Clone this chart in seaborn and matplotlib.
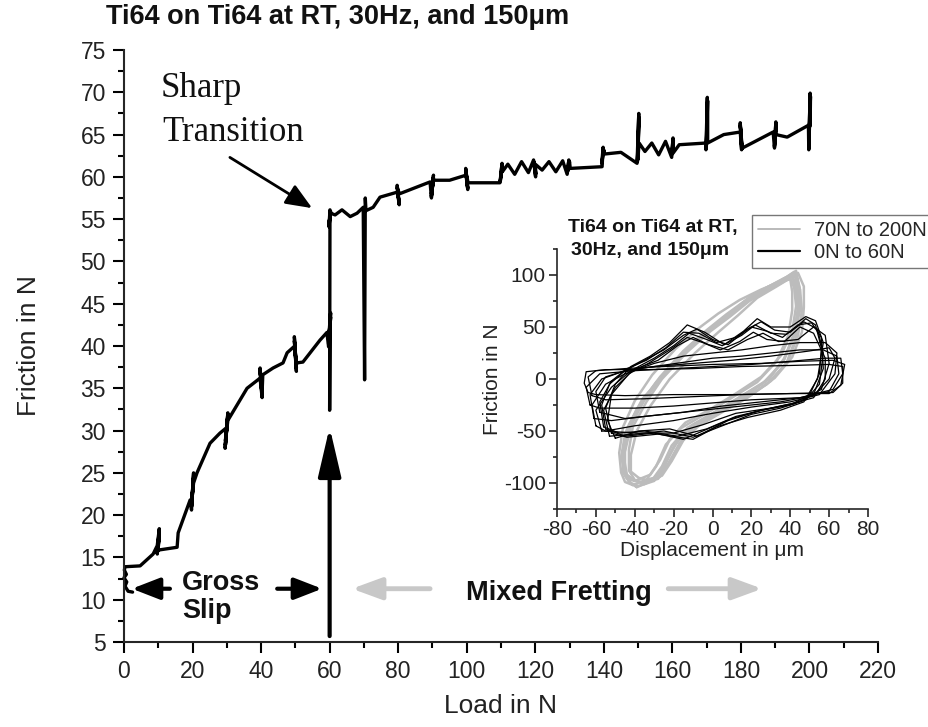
import matplotlib
matplotlib.use("Agg")
import matplotlib.pyplot as plt
from matplotlib.lines import Line2D
from matplotlib.ticker import MultipleLocator
import pandas as pd
import seaborn as sns

# ---------------- main curve: friction versus applied load ----------------
load = [2.5, 1.2, 0.3, 0.8, 0.0, 0.7, 0.1, 0.3,
        4.7, 8.5, 9.7, 10.3, 9.7, 10.3, 9.7, 10.3, 9.9, 10.5,
        15.5, 15.8, 19.3, 19.7, 20.3, 19.7, 20.3, 19.7, 20.3, 21.3,
        25.1, 28.0, 29.8, 29.5, 30.3, 29.6, 30.3, 29.6, 30.3,
        35.9, 39.7, 40.3, 39.7, 40.3, 39.7, 40.3, 40.5, 43.5, 46.4, 47.6,
        49.8, 50.3, 49.7, 50.3, 49.7, 50.3, 50.4, 52.2, 57.2,
        59.2, 59.7, 60.3, 59.7, 60.3, 59.7, 60.1, 60.0, 60.1, 59.8, 60.3, 59.8, 60.3,
        61.6, 63.6, 66.0, 68.0, 69.8, 70.2, 70.4, 70.6,
        72.7, 74.7, 79.8, 80.3, 79.7, 80.3, 79.7, 80.4,
        89.3, 89.7, 90.3, 89.7, 90.3, 89.7, 90.3, 95.0,
        99.8, 100.3, 99.7, 100.3, 99.7, 100.4,
        109.7, 110.3, 109.8, 110.4, 110.4, 112.0, 114.0, 116.0, 118.0,
        119.5, 120.1, 119.6, 120.2, 120.0, 122.0, 124.0, 126.0, 128.0,
        129.3, 129.8, 129.4, 130.0, 130.2,
        139.5, 139.8, 139.4, 140.0, 140.2, 145.0,
        149.7, 150.2, 149.8, 150.3, 149.9, 150.3,
        152.0, 154.0, 156.0, 158.0, 159.8, 160.2, 159.8, 160.3, 160.2, 162.0,
        169.8, 169.8, 170.2, 169.9, 170.3, 170.3, 175.0,
        179.8, 180.2, 179.8, 180.3, 179.8, 180.4,
        189.4, 189.8, 190.2, 189.8, 190.3, 190.2, 193.5,
        199.7, 199.8, 200.2, 199.8, 200.3, 200.2]
friction = [10.9, 11.0, 11.6, 12.1, 12.6, 13.0, 13.5, 13.9,
            14.0, 15.4, 16.4, 18.4, 15.4, 18.0, 15.6, 17.4, 15.8, 15.9,
            16.2, 17.9, 21.8, 20.6, 25.0, 21.0, 24.4, 21.4, 23.8, 25.0,
            28.5, 29.7, 30.3, 27.9, 32.1, 28.3, 31.8, 28.8, 31.2,
            35.0, 36.2, 33.9, 37.4, 34.2, 37.0, 34.6, 36.6, 37.4, 38.0, 39.2,
            40.0, 37.0, 41.1, 37.4, 40.6, 37.8, 38.0, 38.1, 40.7,
            41.6, 39.9, 43.9, 40.3, 43.4, 40.8, 43.0, 32.4, 56.1, 54.1, 55.9, 54.5, 55.7,
            55.5, 56.1, 55.3, 55.7, 56.4, 36.0, 57.5, 56.0,
            56.4, 57.6, 58.2, 56.7, 59.0, 56.9, 58.7, 58.0,
            59.4, 57.5, 60.2, 57.7, 59.9, 58.0, 59.6, 59.6,
            60.2, 58.5, 61.0, 58.7, 60.7, 59.3,
            59.3, 61.6, 59.5, 61.3, 60.6, 61.5, 60.3, 61.8, 60.5,
            62.0, 60.0, 61.8, 60.3, 61.5, 60.8, 61.8, 60.6, 61.9,
            60.3, 62.0, 60.6, 61.8, 61.0,
            61.2, 63.5, 61.6, 63.2, 62.7, 62.9,
            61.6, 67.5, 61.8, 67.0, 62.0, 64.0,
            63.0, 64.0, 62.6, 64.2, 62.3, 64.6, 62.6, 64.3, 62.8, 63.8,
            64.0, 63.2, 69.4, 63.4, 69.0, 64.0, 65.0,
            65.3, 63.2, 66.4, 63.3, 66.1, 63.4,
            65.3, 63.4, 66.5, 63.6, 66.2, 65.0, 64.7,
            66.1, 63.2, 69.9, 63.4, 69.5, 66.0]

x_ticks = list(range(0, 221, 20))
y_ticks = list(range(5, 76, 5))

# ---------------- inset: friction loops, 0N to 60N ----------------
low_x = [
    [-64, -66, -65, -55, -35, -10, 15, 40, 60, 67, 67, 62, 40, 10, -20, -45, -60, -64],
    [-62, -64, -60, -45, -25, 0, 25, 45, 62, 68, 66, 60, 40, 15, -10, -35, -55, -62],
    [-63, -65, -58, -40, -20, 0, 20, 40, 58, 66, 67, 62, 45, 20, 0, -20, -40, -58, -63],
    [-61, -63, -57, -45, -30, -15, 0, 15, 30, 45, 57, 64, 65, 60, 45, 25, 5, -15, -35, -52, -61],
    [-58, -60, -55, -45, -30, -10, 10, 30, 50, 60, 63, 60, 52, 35, 15, -5, -25, -45, -58],
    [-60, -62, -55, -45, -30, -15, 0, 15, 30, 45, 58, 64, 63, 55, 40, 20, 0, -20, -40, -55, -60],
    [-57, -60, -52, -42, -28, -18, -10, -2, 8, 18, 26, 34, 44, 52, 58, 60, 56, 45, 30, 12, -5, -20, -38, -57],
    [-56, -58, -52, -44, -34, -24, -15, -7, 2, 12, 20, 28, 36, 44, 51, 56, 57, 52, 42, 28, 12, -3, -18, -35, -48, -56],
    [-55, -57, -53, -45, -35, -25, -15, -8, 0, 8, 18, 25, 32, 40, 48, 53, 56, 55, 50, 40, 25, 10, -5, -15, -30, -45, -55],
    [-53, -56, -50, -40, -30, -20, -12, -3, 5, 15, 22, 30, 38, 47, 54, 57, 55, 48, 35, 20, 5, -10, -25, -40, -53],
    [-50, -54, -52, -43, -33, -22, -13, -5, 4, 14, 21, 28, 37, 45, 52, 58, 58, 52, 40, 25, 8, -8, -22, -38, -50],
    [-52, -55, -50, -42, -32, -22, -13, -4, 6, 16, 23, 30, 40, 48, 53, 57, 54, 47, 35, 18, 2, -10, -28, -44, -52],
]
low_y = [
    [-13, -4, 7, 9, 9, 10, 12, 13, 14, 12, -4, -13, -14, -15, -15, -16, -15, -13],
    [-16, 2, 8, 10, 12, 14, 15, 17, 18, 14, -6, -14, -14, -15, -17, -19, -20, -16],
    [-25, -8, 5, 8, 10, 12, 14, 17, 20, 20, 5, -10, -18, -20, -23, -26, -28, -28, -25],
    [-38, -15, 0, 8, 12, 16, 20, 22, 25, 28, 28, 22, 5, -12, -18, -22, -26, -32, -36, -40, -38],
    [-32, -12, 2, 8, 12, 15, 18, 22, 27, 30, 20, 0, -16, -22, -26, -30, -34, -38, -32],
    [-45, -25, -5, 5, 15, 22, 25, 28, 32, 35, 35, 25, 5, -15, -22, -27, -33, -40, -45, -50, -45],
    [-50, -30, -8, 8, 18, 32, 40, 33, 28, 38, 44, 36, 38, 50, 42, 15, -10, -22, -28, -33, -44, -52, -52, -50],
    [-46, -22, -2, 10, 18, 30, 45, 44, 35, 40, 50, 46, 40, 52, 54, 40, 10, -15, -24, -29, -36, -48, -55, -50, -52, -46],
    [-48, -25, -5, 8, 18, 28, 42, 48, 38, 33, 48, 55, 47, 45, 58, 52, 30, 5, -15, -25, -30, -38, -50, -58, -52, -55, -48],
    [-55, -30, -8, 10, 20, 32, 44, 38, 32, 42, 52, 44, 43, 55, 48, 25, -5, -20, -28, -34, -45, -56, -50, -53, -55],
    [-57, -40, -15, 5, 15, 28, 40, 35, 28, 36, 45, 38, 36, 50, 44, 20, 0, -18, -24, -30, -40, -55, -48, -50, -57],
    [-52, -28, -5, 12, 22, 35, 52, 45, 33, 46, 58, 50, 50, 60, 56, 35, 0, -22, -30, -37, -46, -58, -53, -56, -52],
]

# ---------------- inset: friction loops, 70N to 200N ----------------
high_x = [
    [-38, -30, -25, -20, -12, 0, 15, 28, 38, 43, 44, 44, 42, 38, 30, 20, 10, 0, -12, -25, -35, -42, -45, -45, -42, -38],
    [-36, -28, -23, -17, -8, 4, 18, 30, 39, 44, 46, 45, 43, 37, 28, 18, 7, -3, -15, -27, -37, -44, -46, -44, -40, -36],
    [-40, -32, -27, -22, -14, -2, 12, 25, 35, 41, 43, 42, 40, 35, 27, 16, 6, -4, -16, -28, -38, -44, -46, -46, -44, -40],
    [-35, -27, -22, -16, -9, 3, 17, 29, 37, 42, 44, 43, 41, 36, 29, 19, 9, -1, -13, -26, -34, -41, -43, -43, -40, -35],
    [-39, -31, -26, -21, -13, -1, 13, 26, 36, 42, 45, 45, 43, 39, 31, 21, 11, 1, -11, -24, -36, -43, -46, -46, -43, -39],
    [-37, -29, -24, -18, -10, 2, 16, 29, 37, 42, 44, 43, 41, 35, 27, 17, 6, -4, -16, -29, -39, -45, -47, -45, -41, -37],
    [-41, -34, -29, -24, -16, -4, 10, 23, 33, 39, 41, 41, 40, 34, 25, 14, 3, -7, -19, -31, -40, -46, -48, -47, -45, -41],
    [-34, -26, -21, -15, -6, 6, 20, 32, 41, 46, 47, 47, 44, 40, 33, 23, 13, 3, -9, -22, -32, -39, -42, -42, -38, -34],
]
high_y = [
    [-103, -98, -85, -65, -48, -35, -20, -5, 15, 40, 65, 85, 103, 98, 90, 80, 65, 50, 30, 5, -20, -45, -70, -90, -100, -103],
    [-100, -96, -82, -62, -46, -33, -18, -2, 18, 42, 66, 86, 100, 96, 88, 77, 62, 47, 27, 2, -24, -48, -72, -92, -98, -100],
    [-98, -92, -78, -58, -42, -30, -14, 2, 22, 46, 70, 88, 97, 92, 84, 73, 58, 44, 24, -2, -28, -52, -76, -90, -96, -98],
    [-101, -94, -80, -60, -44, -31, -16, 0, 20, 44, 68, 87, 101, 94, 86, 75, 60, 46, 26, 0, -22, -46, -68, -88, -97, -101],
    [-104, -97, -84, -64, -47, -34, -19, -4, 16, 41, 66, 86, 104, 99, 91, 81, 66, 51, 31, 6, -19, -44, -69, -89, -99, -104],
    [-99, -95, -80, -60, -44, -31, -15, 0, 19, 43, 67, 85, 99, 93, 85, 74, 59, 44, 22, -3, -29, -53, -75, -91, -97, -99],
    [-102, -97, -84, -63, -47, -34, -18, -3, 17, 42, 66, 84, 96, 93, 86, 76, 63, 49, 29, 4, -21, -46, -71, -90, -99, -102],
    [-97, -93, -79, -59, -43, -30, -15, 1, 21, 45, 69, 89, 102, 97, 89, 78, 61, 45, 25, 0, -26, -50, -73, -89, -95, -97],
]

disp_ticks = list(range(-80, 81, 20))
loop_ticks = [-100, -50, 0, 50, 100]


def loops_frame(xs, ys):
    rows = []
    for k, (lx, ly) in enumerate(zip(xs, ys)):
        for i, (a, b) in enumerate(zip(lx, ly)):
            rows.append({"cycle": k, "step": i, "disp": a, "fric": b})
    return pd.DataFrame(rows)


sns.set_style("ticks")
plt.rcParams["font.family"] = ["Liberation Sans", "DejaVu Sans"]
plt.rcParams["axes.linewidth"] = 1.5
plt.rcParams["axes.unicode_minus"] = False

fig = plt.figure(figsize=(9.29, 7.27), dpi=100)

# ---------------- main axes ----------------
ax = fig.add_axes([124 / 929, 85 / 727, 754 / 929, 592 / 727])
main_df = pd.DataFrame({"load": load, "friction": friction})
sns.lineplot(data=main_df, x="load", y="friction", sort=False, estimator=None,
             color="black", linewidth=2.4, ax=ax, clip_on=False)

ax.set_xlim(0, 220)
ax.set_ylim(5, 75)
ax.set_xticks(x_ticks)
ax.set_yticks(y_ticks)
ax.xaxis.set_minor_locator(MultipleLocator(10))
ax.yaxis.set_minor_locator(MultipleLocator(2.5))
ax.tick_params(which="major", direction="out", length=8, width=1.5,
               labelsize=16.5, pad=5, color="black", labelcolor="#222222")
ax.tick_params(which="minor", direction="out", length=4, width=1.5, color="black")
sns.despine(ax=ax)
ax.set_xlabel("Load in N", fontsize=19, color="#222222")
ax.set_ylabel("Friction in N", fontsize=19, color="#222222")
ax.xaxis.set_label_coords(0.5, -0.088)
ax.yaxis.set_label_coords(-0.110, 0.5)

fig.text(106 / 929, 1 - 17 / 727, "Ti64 on Ti64 at RT, 30Hz, and 150\u03bcm",
         fontsize=19.5, fontweight="bold", ha="left", va="center", color="#111111")

# annotations
ax.text(10.8, 69.5, "Sharp", family=["Liberation Serif", "DejaVu Serif"],
        fontsize=25, ha="left", va="baseline", color="#111111")
ax.text(11.3, 64.2, "Transition", family=["Liberation Serif", "DejaVu Serif"],
        fontsize=25, ha="left", va="baseline", color="#111111")
ax.annotate("", xy=(54.9, 56.3), xytext=(30.9, 62.3),
            arrowprops=dict(arrowstyle="-|>,head_length=0.8,head_width=0.33",
                            lw=2, color="black", shrinkA=0, shrinkB=0,
                            mutation_scale=20))
ax.annotate("", xy=(60, 30.4), xytext=(60, 5.7),
            arrowprops=dict(arrowstyle="-|>,head_length=1.5,head_width=0.35",
                            lw=3, color="black", shrinkA=0, shrinkB=0,
                            mutation_scale=20))

ax.text(16.9, 11.1, "Gross", fontsize=19.5, fontweight="bold", ha="left",
        va="baseline", color="#111111")
ax.text(16.9, 7.8, "Slip", fontsize=19.5, fontweight="bold", ha="left",
        va="baseline", color="#111111")
for tail, tip in [(13.4, 2.3), (44.7, 57.8)]:
    ax.annotate("", xy=(tip, 11.3), xytext=(tail, 11.3),
                arrowprops=dict(arrowstyle="-|>,head_length=0.85,head_width=0.33",
                                lw=3, color="black", shrinkA=0, shrinkB=0,
                                mutation_scale=20))

ax.text(126.8, 9.95, "Mixed Fretting", fontsize=19.5, fontweight="bold",
        ha="center", va="baseline", color="#111111")
for tail, tip in [(89.3, 66.5), (158.8, 186.2)]:
    ax.annotate("", xy=(tip, 11.3), xytext=(tail, 11.3),
                arrowprops=dict(arrowstyle="-|>,head_length=0.9,head_width=0.33",
                                lw=3.5, color="#c8c8c8", shrinkA=0, shrinkB=0,
                                mutation_scale=20))

# ---------------- inset axes ----------------
ins = fig.add_axes([557 / 929, 218 / 727, 311 / 929, 260 / 727])
high_df = loops_frame(high_x, high_y)
low_df = loops_frame(low_x, low_y)
sns.lineplot(data=high_df, x="disp", y="fric", units="cycle", estimator=None,
             sort=False, color="#bcbcbc", linewidth=1.8, ax=ins)
sns.lineplot(data=low_df, x="disp", y="fric", units="cycle", estimator=None,
             sort=False, color="black", linewidth=0.9, ax=ins)
ins.set_xlim(-80, 80)
ins.set_ylim(-125, 125)
ins.set_xticks(disp_ticks)
ins.set_yticks(loop_ticks)
ins.xaxis.set_minor_locator(MultipleLocator(10))
ins.yaxis.set_minor_locator(MultipleLocator(25))
ins.patch.set_alpha(0)
for s in ins.spines.values():
    s.set_linewidth(1.2)
sns.despine(ax=ins)
ins.tick_params(which="major", direction="out", length=6, width=1.2,
                labelsize=15, pad=2, labelcolor="#222222")
ins.tick_params(which="minor", direction="out", length=3, width=1.2)
ins.set_xlabel("Displacement in \u03bcm", fontsize=15, labelpad=1, color="#222222")
ins.set_ylabel("Friction in N", fontsize=15, labelpad=1, color="#222222")

fig.text(653 / 929, 1 - 232 / 727, "Ti64 on Ti64 at RT,", fontsize=14,
         fontweight="bold", ha="center", va="baseline", color="#111111")
fig.text(650 / 929, 1 - 255 / 727, "30Hz, and 150\u03bcm", fontsize=14,
         fontweight="bold", ha="center", va="baseline", color="#111111")

handles = [Line2D([], [], color="#b4b4b4", lw=1.3),
           Line2D([], [], color="black", lw=1.6)]
leg = ins.legend(handles, ["70N to 200N", "0N to 60N"], loc="upper left",
                 bbox_to_anchor=(752 / 929, 1 - 215 / 727),
                 bbox_transform=fig.transFigure, borderaxespad=0,
                 fontsize=14.5, frameon=True, fancybox=False, handlelength=2.1,
                 handletextpad=0.7, labelspacing=0.15, borderpad=0.3)
leg.get_frame().set_edgecolor("#555555")
leg.get_frame().set_linewidth(1.0)

fig.savefig("out.png", dpi=100, facecolor="white")
